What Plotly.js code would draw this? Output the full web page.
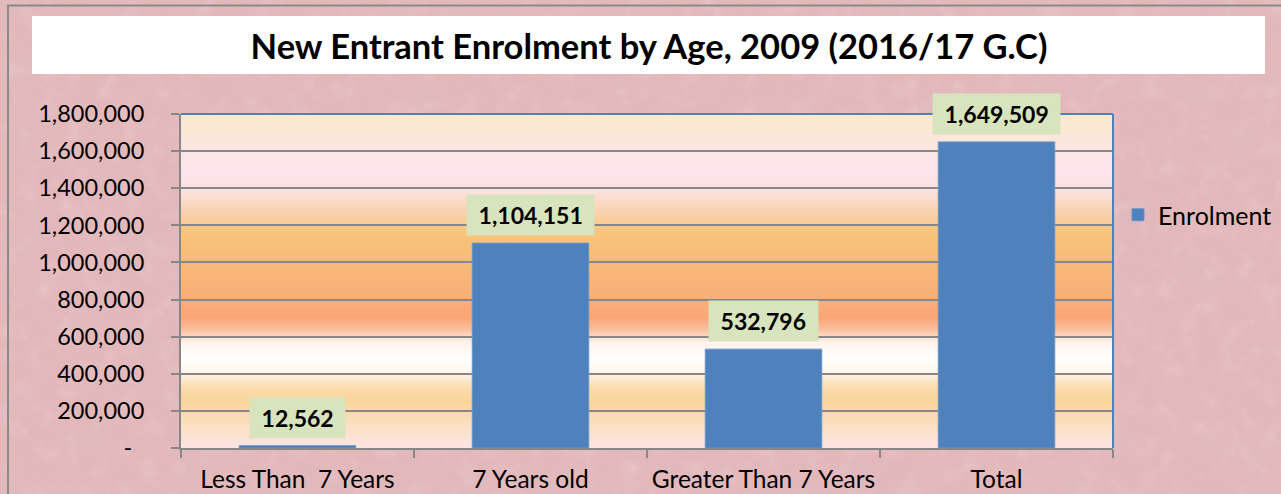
<!DOCTYPE html>
<html>
<head>
<meta charset="utf-8">
<script src="https://cdn.plot.ly/plotly-3.0.1.min.js"></script>
<style>
  html, body { margin: 0; padding: 0; }
  #chart { width: 1281px; height: 494px; }
</style>
</head>
<body>
<div id="chart"></div>
<script>
// ---- data ----
const categories = ['Less Than\u00a0 7 Years', '7 Years old', 'Greater Than 7 Years', 'Total'];
const enrolment = [12562, 1104151, 532796, 1649509];
const seriesName = 'Enrolment';
const yTickValues = [0, 200000, 400000, 600000, 800000, 1000000, 1200000, 1400000, 1600000, 1800000];
const yTickLabels = ['-\u00a0\u00a0', '200,000', '400,000', '600,000', '800,000', '1,000,000', '1,200,000', '1,400,000', '1,600,000', '1,800,000'];
const chartTitle = 'New Entrant Enrolment by Age, 2009 (2016/17 G.C)';

// ---- geometry ----
const W = 1281, H = 494;
const M = { l: 181, r: 168, t: 114, b: 46, autoexpand: false };
const PW = W - M.l - M.r, PH = H - M.t - M.b;
const px = v => (v - M.l) / PW;          // pixel x -> paper x
const py = v => (H - M.b - v) / PH;      // pixel y -> paper y

// paper background texture (pink parchment)
const texSvg = `<svg xmlns="http://www.w3.org/2000/svg" width="${W}" height="${H}">
<filter id="n"><feTurbulence type="fractalNoise" baseFrequency="0.018 0.03" numOctaves="4" seed="7"/>
<feColorMatrix values="0 0 0 0 0.72  0 0 0 0 0.50  0 0 0 0 0.53  1.1 0 0 0 -0.45"/></filter>
<filter id="m"><feTurbulence type="fractalNoise" baseFrequency="0.05" numOctaves="3" seed="2"/>
<feColorMatrix values="0 0 0 0 1  0 0 0 0 0.93  0 0 0 0 0.94  0 1.0 0 0 -0.5"/></filter>
<rect width="100%" height="100%" fill="#e3b8bb"/>
<rect width="100%" height="100%" filter="url(#n)" opacity="0.7"/>
<rect width="100%" height="100%" filter="url(#m)" opacity="0.35"/>
</svg>`;
document.getElementById('chart').style.background =
  'url("data:image/svg+xml;charset=utf-8,' + encodeURIComponent(texSvg) + '")';

// plot area gradient
const stops = [
  [0, '#f9eacb'], [0.078, '#fbe6dc'], [0.168, '#fde5ee'], [0.228, '#fde2df'],
  [0.302, '#fad0aa'], [0.353, '#f9c57b'], [0.437, '#f8bb7a'], [0.557, '#f9ae7a'],
  [0.611, '#f9a677'], [0.647, '#fbc0a0'], [0.683, '#fff3ea'], [0.731, '#ffffff'],
  [0.772, '#fff6ec'], [0.820, '#fbdcad'], [0.862, '#fad49a'], [0.931, '#fbe0c2'], [1, '#fde4e4']
];
const gradSvg = `<svg xmlns="http://www.w3.org/2000/svg" width="100" height="334" preserveAspectRatio="none">
<defs><linearGradient id="g" x1="0" y1="0" x2="0" y2="1">${stops.map(s => `<stop offset="${s[0]}" stop-color="${s[1]}"/>`).join('')}</linearGradient></defs>
<rect width="100" height="334" fill="url(#g)"/></svg>`;
const gradUrl = 'data:image/svg+xml;charset=utf-8,' + encodeURIComponent(gradSvg);

const FONT = 'Lato, "Open Sans", "Liberation Sans", sans-serif';
const GRID = '#878787';

const trace = {
  type: 'bar',
  x: categories,
  y: enrolment,
  name: seriesName,
  width: 0.5,
  marker: { color: '#4f81bd', line: { color: '#6a95c9', width: 1 } },
  showlegend: true,
  hoverinfo: 'x+y'
};

const annotations = categories.map((c, i) => ({
  x: c, y: enrolment[i], xref: 'x', yref: 'y',
  text: '<b>\u00a0' + enrolment[i].toLocaleString('en-US') + '\u00a0</b>',
  showarrow: false, yanchor: 'bottom', yshift: 7,
  bgcolor: '#d7e4bd', borderpad: 6,
  font: { family: FONT, size: 23, color: '#000' }
}));

const layout = {
  width: W, height: H,
  margin: M,
  paper_bgcolor: 'rgba(0,0,0,0)',
  plot_bgcolor: 'rgba(0,0,0,0)',
  font: { family: FONT, color: '#000' },
  title: {
    text: '<b>' + chartTitle + '</b>',
    font: { family: FONT, size: 34.5, color: '#000' },
    xref: 'container', yref: 'container',
    x: 649 / W, xanchor: 'center',
    y: 1 - 47 / H, yanchor: 'middle'
  },
  xaxis: {
    type: 'category',
    showline: true, linecolor: GRID, linewidth: 2,
    ticks: 'outside', tickson: 'boundaries', ticklen: 8, tickwidth: 2, tickcolor: GRID,
    showgrid: false, tickangle: 0, automargin: false,
    tickfont: { family: FONT, size: 24.5, color: '#000' },
    ticklabelstandoff: 9
  },
  yaxis: {
    range: [0, 1800000], automargin: false,
    tickmode: 'array', tickvals: yTickValues, ticktext: yTickLabels,
    showline: true, linecolor: GRID, linewidth: 2,
    ticks: 'outside', ticklen: 8, tickwidth: 2, tickcolor: GRID,
    showgrid: true, gridcolor: GRID, gridwidth: 2,
    zeroline: false,
    tickfont: { family: FONT, size: 23.5, color: '#000' },
    ticklabelstandoff: 22
  },
  legend: {
    x: px(1118), xanchor: 'left', y: py(215), yanchor: 'middle',
    bgcolor: 'rgba(0,0,0,0)',
    font: { family: FONT, size: 25, color: '#000' }
  },
  bargap: 0.5,
  images: [{
    source: gradUrl, xref: 'paper', yref: 'paper',
    x: 0, y: 1, sizex: 1, sizey: 1, sizing: 'stretch',
    xanchor: 'left', yanchor: 'top', layer: 'below'
  }],
  shapes: [
    // title box
    { type: 'rect', xref: 'paper', yref: 'paper', x0: px(32), x1: px(1265), y0: py(74), y1: py(16),
      fillcolor: '#ffffff', line: { width: 0 }, layer: 'below' },
    // outer border
    { type: 'rect', xref: 'paper', yref: 'paper', x0: px(8), x1: px(1300), y0: py(520), y1: py(5.5),
      fillcolor: 'rgba(0,0,0,0)', line: { color: '#8a8a8a', width: 2 }, layer: 'below' },
    // plot area top & right border (blue)
    { type: 'line', xref: 'paper', yref: 'paper', x0: 0, x1: 1, y0: 1, y1: 1,
      line: { color: '#4f81bd', width: 2 } },
    { type: 'line', xref: 'paper', yref: 'paper', x0: 1, x1: 1, y0: 0, y1: 1,
      line: { color: '#4f81bd', width: 2 } }
  ],
  annotations: annotations
};

Plotly.newPlot('chart', [trace], layout, { displayModeBar: false, staticPlot: true });
</script>
</body>
</html>
